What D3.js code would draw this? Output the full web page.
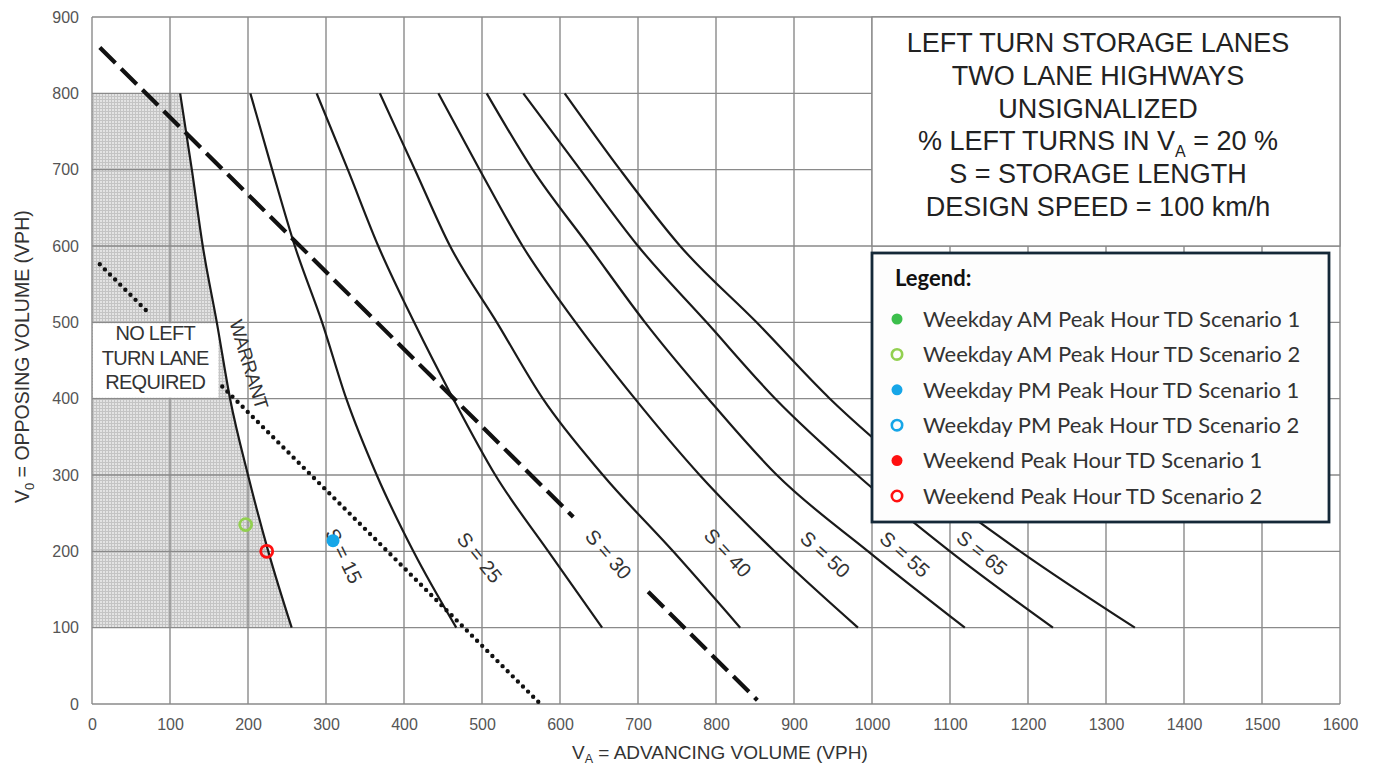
<!DOCTYPE html>
<html>
<head>
<meta charset="utf-8">
<script src="https://cdn.jsdelivr.net/npm/d3@7"></script>
<style>
  body { margin: 0; background: #fff; }
  svg { display: block; }
</style>
</head>
<body>
<svg id="chart" width="1379" height="767"></svg>
<script>
// axis ticks
const xTicks = d3.range(0, 1601, 100);
const yTicks = d3.range(0, 901, 100);

// curves read at these opposing volumes
const curveLevels = [800, 700, 600, 500, 400, 300, 200, 100];
const warrantX = [113, 128, 142, 160, 177, 200, 226, 256];

const storageNames = ["S = 15", "S = 25", "S = 30", "S = 40", "S = 50", "S = 55", "S = 65"];
const storageX = [
  [203, 231, 260, 295, 326, 365, 412, 467],
  [288, 328, 367, 413, 463, 517, 585, 654],
  [369, 414, 459, 519, 578, 655, 745, 831],
  [444, 497, 552, 620, 696, 779, 875, 982],
  [506, 565, 637, 709, 790, 878, 995, 1119],
  [553, 626, 700, 788, 876, 981, 1100, 1232],
  [606, 677, 754, 852, 946, 1058, 1190, 1337]
];
// label centre (VA, VO) and rotation
const storageLabelX = [323, 497, 662, 815, 940, 1042, 1141];
const storageLabelY = [194, 192, 196, 198, 196, 196, 198];
const storageLabelAngle = [64, 51, 49, 47, 42, 41, 39];

// dashed and dotted guide lines (two pieces each)
const dashedX = [[10, 617], [713, 853]];
const dashedY = [[860, 245], [147, 5]];
const dottedX = [[10, 72], [167, 574]];
const dottedY = [[576, 513], [416, 1]];

// legend series
const seriesNames = [
  "Weekday AM Peak Hour TD Scenario 1",
  "Weekday AM Peak Hour TD Scenario 2",
  "Weekday PM Peak Hour TD Scenario 1",
  "Weekday PM Peak Hour TD Scenario 2",
  "Weekend Peak Hour TD Scenario 1",
  "Weekend Peak Hour TD Scenario 2"
];
const seriesColors = ["#3cbf4c", "#92d050", "#16a6e8", "#16a6e8", "#ff1010", "#ff1010"];
const seriesFilled = [true, false, true, false, true, false];

// plotted scenario points
const pointSeries = [1, 2, 5];
const pointX = [197, 309, 224];
const pointY = [235, 214, 200];

const titleLines = ["LEFT TURN STORAGE LANES", "TWO LANE HIGHWAYS", "UNSIGNALIZED",
  "% LEFT TURNS IN V|A| = 20 %", "S = STORAGE LENGTH", "DESIGN SPEED = 100 km/h"];

const svg = d3.select("#chart");
const x = d3.scaleLinear().domain([0, 1600]).range([92, 1340]);
const y = d3.scaleLinear().domain([0, 900]).range([704, 17]);

const font = "'Liberation Sans', Arial, sans-serif";
const defs = svg.append("defs");
const pat = defs.append("pattern").attr("id", "hatch")
  .attr("width", 3).attr("height", 3).attr("patternUnits", "userSpaceOnUse");
pat.append("rect").attr("width", 3).attr("height", 3).attr("fill", "#e3e3e3");
pat.append("path").attr("d", "M0,0.5H3M0.5,0V3").attr("stroke", "#c4c4c4").attr("stroke-width", 1);

// shaded "no lane required" area
const shadePts = [[0, 800]].concat(curveLevels.map((v, i) => [warrantX[i], v])).concat([[0, 100]]);
svg.append("path")
  .attr("d", d3.line().x(d => x(d[0])).y(d => y(d[1]))(shadePts) + "Z")
  .attr("fill", "url(#hatch)");

// grid
svg.append("g").selectAll("line").data(xTicks).join("line")
  .attr("x1", d => x(d)).attr("x2", d => x(d)).attr("y1", y(0)).attr("y2", y(900))
  .attr("stroke", "#8a8a8a").attr("stroke-width", 1.4);
svg.append("g").selectAll("line").data(yTicks).join("line")
  .attr("y1", d => y(d)).attr("y2", d => y(d)).attr("x1", x(0)).attr("x2", x(1600))
  .attr("stroke", "#8a8a8a").attr("stroke-width", 1.4);

// white box behind the "no left turn" note
svg.append("rect")
  .attr("x", x(0) + 1).attr("y", y(500) + 1)
  .attr("width", x(162) - x(0) - 1).attr("height", y(400) - y(500) - 2)
  .attr("fill", "#fff");

// axes labels
const yAxis = svg.append("g").attr("transform", `translate(${x(0)},0)`)
  .call(d3.axisLeft(y).tickValues(yTicks).tickFormat(d3.format("d")).tickSize(0).tickPadding(13));
const xAxis = svg.append("g").attr("transform", `translate(0,${y(0)})`)
  .call(d3.axisBottom(x).tickValues(xTicks).tickFormat(d3.format("d")).tickSize(0).tickPadding(15));
[xAxis, yAxis].forEach(g => {
  g.select(".domain").remove();
  g.selectAll("text").attr("font-family", font).attr("font-size", 16).attr("fill", "#555");
});

svg.append("text")
  .attr("transform", `translate(29,${y(455)}) rotate(-90)`)
  .attr("text-anchor", "middle").attr("font-family", font).attr("font-size", 19.5).attr("fill", "#333")
  .call(t => {
    t.append("tspan").text("V");
    t.append("tspan").attr("font-size", 13).attr("dy", 5).text("0");
    t.append("tspan").attr("dy", -5).text(" = OPPOSING VOLUME (VPH)");
  });
svg.append("text")
  .attr("x", x(805)).attr("y", 759)
  .attr("text-anchor", "middle").attr("font-family", font).attr("font-size", 19).attr("fill", "#333")
  .call(t => {
    t.append("tspan").text("V");
    t.append("tspan").attr("font-size", 12.5).attr("dy", 4).text("A");
    t.append("tspan").attr("dy", -4).text(" = ADVANCING VOLUME (VPH)");
  });

// title box
svg.append("rect")
  .attr("x", 872).attr("y", y(900)).attr("width", x(1600) - 872).attr("height", y(600) - y(900))
  .attr("fill", "#fff").attr("stroke", "#8a8a8a").attr("stroke-width", 1.4);
const titleG = svg.append("text").attr("font-family", font).attr("font-size", 27)
  .attr("fill", "#222").attr("text-anchor", "middle");
titleLines.forEach((line, i) => {
  const parts = line.split("|");
  const tl = titleG.append("tspan").attr("x", 1098).attr("y", 52 + i * 32.8);
  if (parts.length === 1) {
    tl.text(line);
  } else {
    tl.text(parts[0]);
    titleG.append("tspan").attr("font-size", 16).attr("dy", 7).text(parts[1]);
    titleG.append("tspan").attr("dy", -7).text(parts[2]);
  }
});

// warrant and storage curves
const curveLine = d3.line().x(d => x(d[0])).y(d => y(d[1])).curve(d3.curveMonotoneX);
svg.append("path")
  .attr("d", curveLine(curveLevels.map((v, i) => [warrantX[i], v])))
  .attr("fill", "none").attr("stroke", "#1a1a1a").attr("stroke-width", 2.2);
svg.append("g").selectAll("path").data(storageX).join("path")
  .attr("d", xs => curveLine(curveLevels.map((v, i) => [xs[i], v])))
  .attr("fill", "none").attr("stroke", "#1a1a1a").attr("stroke-width", 2.2);

// dashed line
svg.append("g").selectAll("line").data(dashedX).join("line")
  .attr("x1", (d, i) => x(d[0])).attr("x2", (d, i) => x(d[1]))
  .attr("y1", (d, i) => y(dashedY[i][0])).attr("y2", (d, i) => y(dashedY[i][1]))
  .attr("stroke", "#111").attr("stroke-width", 4.2).attr("stroke-dasharray", "22,8");

// dotted line
svg.append("g").selectAll("line").data(dottedX).join("line")
  .attr("x1", (d, i) => x(d[0])).attr("x2", (d, i) => x(d[1]))
  .attr("y1", (d, i) => y(dottedY[i][0])).attr("y2", (d, i) => y(dottedY[i][1]))
  .attr("stroke", "#111").attr("stroke-width", 4.4).attr("stroke-linecap", "round")
  .attr("stroke-dasharray", "0,7.2");

// curve labels
svg.append("g").selectAll("text").data(storageNames).join("text")
  .attr("transform", (d, i) => `translate(${x(storageLabelX[i])},${y(storageLabelY[i])}) rotate(${storageLabelAngle[i]})`)
  .attr("text-anchor", "middle").attr("dominant-baseline", "central")
  .attr("font-family", font).attr("font-size", 20).attr("fill", "#333")
  .text(d => d);

// area notes
svg.append("text")
  .attr("transform", `translate(${x(201)},${y(445)}) rotate(73)`)
  .attr("text-anchor", "middle").attr("dominant-baseline", "central")
  .attr("font-family", font).attr("font-size", 19).attr("letter-spacing", -0.5).attr("fill", "#333")
  .text("WARRANT");
const noteLines = ["NO LEFT", "TURN LANE", "REQUIRED"];
svg.append("text").attr("font-family", font).attr("font-size", 20).attr("fill", "#333")
  .attr("text-anchor", "middle").attr("letter-spacing", -0.7)
  .selectAll("tspan").data(noteLines).join("tspan")
  .attr("x", x(81)).attr("y", (d, i) => 340 + i * 24.5).text(d => d);

// scenario points
svg.append("g").selectAll("circle").data(pointSeries).join("circle")
  .attr("cx", (d, i) => x(pointX[i])).attr("cy", (d, i) => y(pointY[i]))
  .attr("r", d => seriesFilled[d] ? 6.5 : 6)
  .attr("fill", d => seriesFilled[d] ? seriesColors[d] : "none")
  .attr("stroke", d => seriesColors[d]).attr("stroke-width", d => seriesFilled[d] ? 0 : 2.8);

// legend
const lg = svg.append("g").attr("transform", "translate(872,253)");
lg.append("rect").attr("width", 457).attr("height", 269)
  .attr("fill", "#fdfdfd").attr("stroke", "#142838").attr("stroke-width", 2.8);
lg.append("text").attr("x", 23).attr("y", 33).attr("font-family", "Lato, sans-serif")
  .attr("font-weight", "bold").attr("font-size", 22).attr("fill", "#111").text("Legend:");
const rows = lg.selectAll("g.row").data(seriesNames).join("g").attr("class", "row")
  .attr("transform", (d, i) => `translate(0,${66 + i * 35.4})`);
rows.append("circle").attr("cx", 25).attr("cy", 0)
  .attr("r", (d, i) => seriesFilled[i] ? 5.5 : 5.2)
  .attr("fill", (d, i) => seriesFilled[i] ? seriesColors[i] : "none")
  .attr("stroke", (d, i) => seriesColors[i])
  .attr("stroke-width", (d, i) => seriesFilled[i] ? 0 : 2.6);
rows.append("text").attr("x", 51).attr("y", 0).attr("dy", "0.35em")
  .attr("font-family", "Lato, sans-serif").attr("font-size", 22).attr("fill", "#333")
  .text(d => d);
</script>
</body>
</html>
